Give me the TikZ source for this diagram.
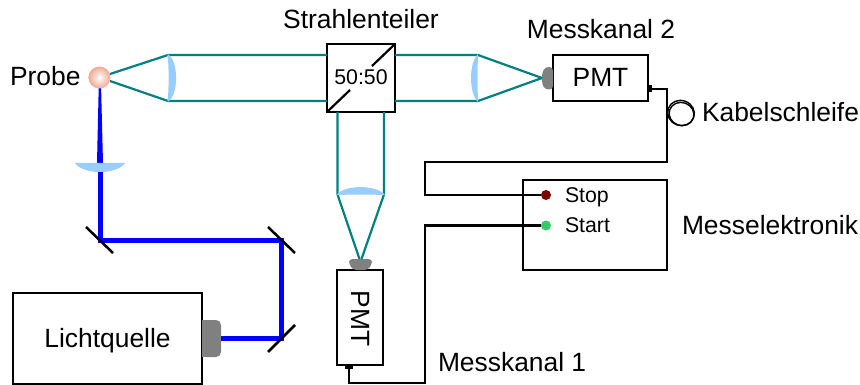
\documentclass[tikz,border=0pt]{standalone}
\usepackage{fontspec}
\setmainfont{Liberation Sans}
\usetikzlibrary{calc}
\definecolor{beamteal}{HTML}{008080}
\definecolor{lensblue}{HTML}{99CCFF}
\definecolor{fibergray}{HTML}{808080}
\definecolor{stopred}{HTML}{800000}
\definecolor{startgreen}{HTML}{33CC66}
\definecolor{probesalmon}{HTML}{F0A890}
\tikzset{
  devicebox/.style={draw=black,line width=2.2pt,fill=white,inner sep=0pt,outer sep=0pt},
  lbl/.style={inner sep=0pt,outer sep=0pt,font=\fontsize{26.4}{28}\selectfont},
  smalllbl/.style={inner sep=0pt,outer sep=0pt,font=\fontsize{21.3}{24}\selectfont},
  teal beam/.style={draw=beamteal,line width=2.2pt},
  laser beam/.style={draw=blue,line width=5pt},
  wire/.style={draw=black,line width=2.2pt},
  mirror/.style={draw=black,line width=2.5pt},
  lens/.style={fill=lensblue,draw=none},
  gray part/.style={fill=fibergray,draw=none},
  plug/.style={fill=black,draw=none},
  pulse dot/.style={circle,minimum size=10pt,inner sep=0pt,outer sep=0pt,draw=none}
}
\begin{document}
\begin{tikzpicture}[x=1pt,y=-1pt]
\useasboundingbox (0,0) rectangle (860,385);
% coordinates
\coordinate (probeA) at (110,74);
\coordinate (probeB) at (110,81);
\coordinate (lensAtop) at (168,55);
\coordinate (lensAbot) at (168,101);
\coordinate (lensBtop) at (478,55);
\coordinate (lensBbot) at (478,101);
\coordinate (focusB) at (542,78);
\coordinate (lensCl) at (337.5,194.5);
\coordinate (lensCr) at (384,194.5);
\coordinate (focusCl) at (359.5,259);
\coordinate (focusCr) at (361.5,259);
\coordinate (m1) at (100,240);
\coordinate (m2) at (281,240);
\coordinate (m3) at (281,338);
\coordinate (lensDl) at (75,163);
\coordinate (lensDr) at (125,163);
% nodes
\node[devicebox,minimum width=68pt,minimum height=68pt] (split) at (361,78) {};
\node[devicebox,minimum width=189pt,minimum height=91pt] (sourcebox) at (107.5,338.5) {};
\node[devicebox,minimum width=95pt,minimum height=46pt] (pmtb) at (600.5,78) {};
\node[devicebox,minimum width=46pt,minimum height=95pt] (pmta) at (360,317.5) {};
\node[devicebox,minimum width=144pt,minimum height=90pt] (elec) at (595,225) {};
% gray parts
\fill[gray part,rounded corners=5pt] (202,320) -- (221,320) -- (221,357) -- (202,357) -- cycle;
\fill[gray part] (202,320) rectangle (208,357);
\fill[gray part,rounded corners=3.5pt] (553,67) -- (545,67) -- (542,73) -- (542,84) -- (545,89.5) -- (553,89.5) -- cycle;
\fill[gray part,rounded corners=3.5pt] (349,259) -- (372,259) -- (372,264) -- (368,270) -- (353,270) -- (349,264) -- cycle;
% laser
\fill[blue] (98.7,88) -- (101.1,88) -- (103,163) -- (97,163) -- cycle;
\draw[laser beam,line cap=butt,line join=miter] (100,170) -- (m1) -- (m2) -- (m3) -- (221,338);
\fill[lens] (lensDl) -- (lensDr) .. controls (117,175) and (83,175) .. (lensDl) -- cycle;
% mirrors
\draw[mirror] (86,227) -- (113,253);
\draw[mirror] (268,227) -- (295,253);
\draw[mirror] (268,352) -- (295,325);
% teal beams
\draw[teal beam] (probeA) -- (lensAtop) -- (split.west |- lensAtop);
\draw[teal beam] (probeB) -- (lensAbot) -- (split.west |- lensAbot);
\draw[teal beam] (split.east |- lensBtop) -- (lensBtop) -- (focusB);
\draw[teal beam] (split.east |- lensBbot) -- (lensBbot) -- (focusB);
\draw[teal beam] (lensCl |- split.south) -- (lensCl) -- (focusCl);
\draw[teal beam] (lensCr |- split.south) -- (lensCr) -- (focusCr);
% lenses
\fill[lens] (167.5,54) .. controls (179,60) and (179,96) .. (167.5,102) .. controls (169,90) and (169,66) .. cycle;
\fill[lens] (478,54) .. controls (468.7,62) and (468.7,94) .. (478,102) .. controls (477.5,90) and (477.5,66) .. cycle;
\fill[lens] (336.5,195) .. controls (344,184.5) and (377,184.5) .. (385,195) .. controls (372,194.5) and (350,194.5) .. cycle;
% probe
\node[circle,minimum size=22pt,inner sep=0pt,inner color=white,outer color=probesalmon,draw=none] (probe) at (99.5,77.5) {};
% splitter diagonals
\draw[wire] (split.south west) -- (350,90);
\draw[wire] (372,66) -- (split.north east);
% plugs
\fill[plug] (648,85) rectangle (652,92.5);
\fill[plug] (345,365) rectangle (353,369);
% dots
\node[pulse dot,fill=stopred] (stop) at (546,195) {};
\node[pulse dot,fill=startgreen] (start) at (546,225.5) {};
% wires
\draw[wire] (pmtb.east |- 0,89) -- (667,89) -- (667,162) -- (425,162) -- (425,195) -- (stop);
\draw[wire] (start) -- (425,225.5) -- (425,383) -- (349,383) -- (349,366);
% loop
\draw[black,line width=1.4pt,rotate around={-20:(681,113)}] (681,113) ellipse (13.5pt and 12.5pt);
\draw[black,line width=1.4pt,rotate around={-20:(681.5,114)}] (681.5,114) ellipse (12.5pt and 11.5pt);
% labels
\node[lbl,anchor=base] (lstrahl) at (361,29) {Strahlenteiler};
\node[lbl,anchor=base west] (lprobe) at (10,86) {Probe};
\node[smalllbl,anchor=base] (l5050) at (361,85) {50:50};
\node[lbl,anchor=base] (lm2) at (601,39) {Messkanal 2};
\node[lbl,anchor=base] (lpmtb) at (600.5,87) {PMT};
\node[lbl,rotate=-90] (lpmta) at (361,318.5) {PMT};
\node[lbl,anchor=base west] (lkabel) at (702,122) {Kabelschleife};
\node[smalllbl,anchor=base west] (lstop) at (565,203) {Stop};
\node[smalllbl,anchor=base west] (lstart) at (565,233) {Start};
\node[lbl,anchor=base west] (lme) at (682,234) {Messelektronik};
\node[lbl,anchor=base west] (lm1) at (438,371) {Messkanal 1};
\node[lbl,anchor=base] (llicht) at (107.5,347) {Lichtquelle};
\end{tikzpicture}
\end{document}
